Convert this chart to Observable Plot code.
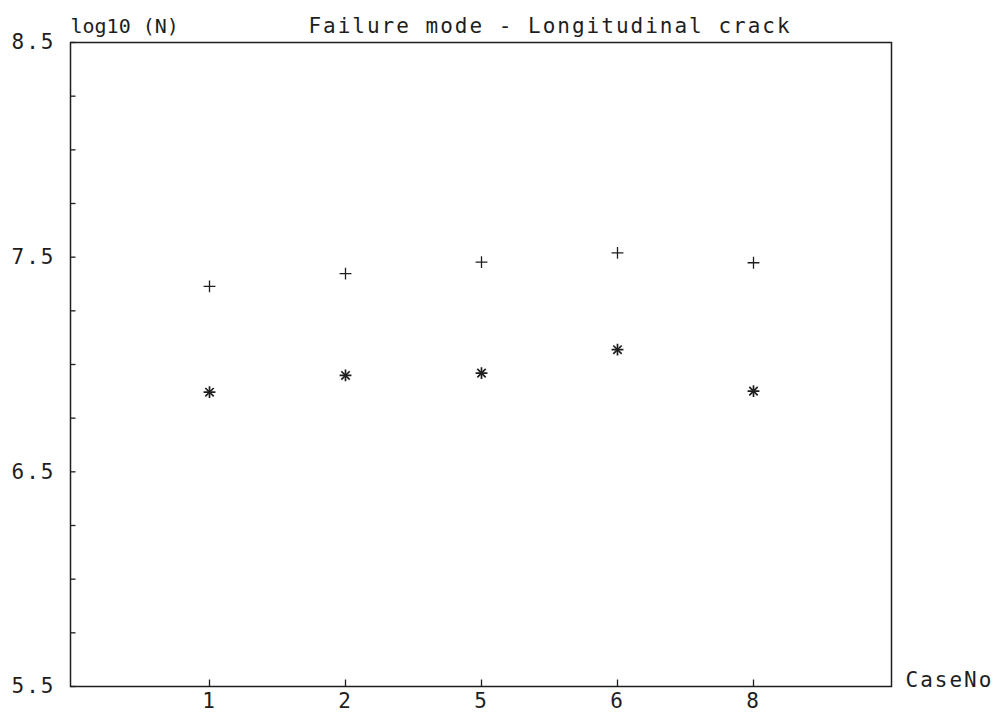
<!DOCTYPE html>
<html>
<head>
<meta charset="utf-8">
<script src="https://cdn.jsdelivr.net/npm/d3@7"></script>
<script src="https://cdn.jsdelivr.net/npm/@observablehq/plot@0.6"></script>
<style>
  html, body { margin: 0; padding: 0; background: #fff; }
  #chart svg text { letter-spacing: 2px; }
</style>
</head>
<body>
<div id="chart"></div>
<script>
// ---- data ----
const cases = ["1", "2", "5", "6", "8"];
const plusValues = [7.364, 7.423, 7.477, 7.520, 7.474];   // "+" markers
const starValues = [6.871, 6.949, 6.960, 7.069, 6.876];   // "*" markers
const yTickValues = [5.5, 5.75, 6.0, 6.25, 6.5, 6.75, 7.0, 7.25, 7.5, 7.75, 8.0, 8.25, 8.5];
const yLabelValues = [5.5, 6.5, 7.5, 8.5];
const titleText = "Failure mode - Longitudinal crack";
const yLabelText = "log10 (N)";
const xLabelText = "CaseNo";

const plusData = cases.map((c, i) => ({caseNo: c, value: plusValues[i]}));
const starData = cases.map((c, i) => ({caseNo: c, value: starValues[i]}));

// inward tick symbols
const tickRight = {draw(ctx) { ctx.moveTo(0, 0); ctx.lineTo(5, 0); }};
const tickUp = {draw(ctx) { ctx.moveTo(0, 0); ctx.lineTo(0, -7); }};

const ink = "#1e1e1e";

const chart = Plot.plot({
  width: 996,
  height: 716,
  marginLeft: 70,
  marginRight: 105,
  marginTop: 42,
  marginBottom: 30,
  style: {fontFamily: "'DejaVu Sans Mono', monospace", fontSize: "21px", color: ink, background: "#fff"},
  x: {type: "point", domain: cases, padding: 1},
  y: {domain: [5.5, 8.5]},
  marks: [
    Plot.axisY(yLabelValues, {tickSize: 0, tickPadding: 15, tickFormat: d3.format(".1f"), label: null, fontSize: 21}),
    Plot.axisX(cases, {tickSize: 0, tickPadding: 7, label: null, fontSize: 21}),
    Plot.frame({stroke: ink, strokeWidth: 1.5}),
    Plot.dot(yTickValues, {y: d => d, frameAnchor: "left", symbol: tickRight, fill: "none", stroke: ink, strokeWidth: 1.3}),
    Plot.dot(cases, {x: d => d, frameAnchor: "bottom", symbol: tickUp, fill: "none", stroke: ink, strokeWidth: 1.3}),
    Plot.dot(plusData, {x: "caseNo", y: "value", symbol: "plus", r: 3.9, stroke: ink, strokeWidth: 1.3}),
    Plot.dot(starData, {x: "caseNo", y: "value", symbol: "plus", r: 3.9, stroke: ink, strokeWidth: 1.7}),
    Plot.dot(starData, {x: "caseNo", y: "value", symbol: "times", r: 3.9, stroke: ink, strokeWidth: 1.7}),
    Plot.text([titleText], {text: d => d, frameAnchor: "top", dx: 69, dy: -10, lineAnchor: "bottom", fontSize: 21, fill: ink}),
    Plot.text([yLabelText], {text: d => d, frameAnchor: "top-left", textAnchor: "start", dy: -10, lineAnchor: "bottom", fontSize: 20, fill: ink}),
    Plot.text([xLabelText], {text: d => d, frameAnchor: "bottom-right", textAnchor: "start", dx: 14, lineAnchor: "bottom", fontSize: 21, fill: ink})
  ]
});

document.getElementById("chart").appendChild(chart);
d3.select(chart).selectAll("text").filter(function() { return this.textContent === yLabelText; }).style("letter-spacing", "0px");
</script>
</body>
</html>
